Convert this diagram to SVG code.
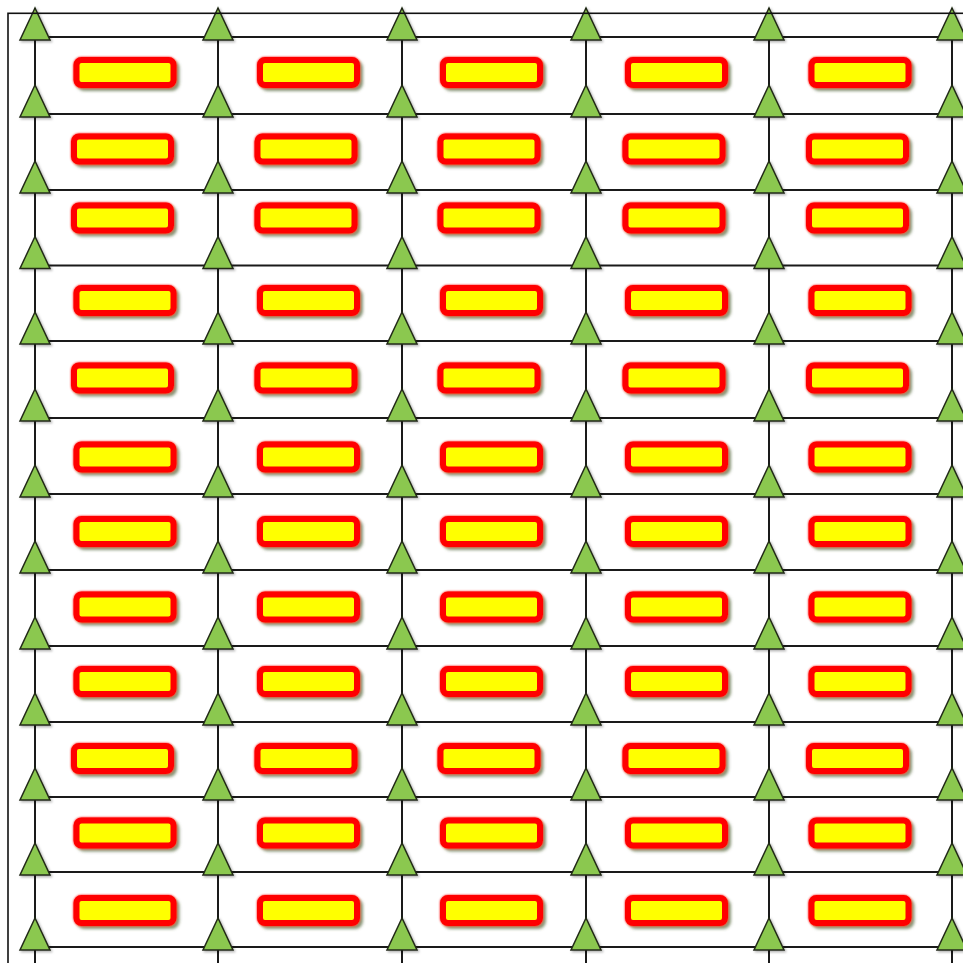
<svg xmlns="http://www.w3.org/2000/svg" xmlns:xlink="http://www.w3.org/1999/xlink" width="963" height="963" viewBox="0 0 963 963">
<style>
.ln{stroke:#1a1a1a;stroke-width:2;fill:none}
.bd{stroke:#111;stroke-width:1.6;fill:none}
.tri{fill:#8bc84f;stroke:#222a18;stroke-width:1.5;stroke-linejoin:miter}
.nd{fill:#ffff00;stroke:#ff0000;stroke-width:6;filter:url(#sh)}
</style>
<defs>
<filter id="sh" x="-10%" y="-40%" width="130%" height="200%">
<feGaussianBlur in="SourceAlpha" stdDeviation="1.5" result="b"/>
<feOffset in="b" dx="3" dy="3" result="o"/>
<feFlood flood-color="#55663a" flood-opacity="0.7"/>
<feComposite in2="o" operator="in" result="s"/>
<feGaussianBlur in="SourceGraphic" stdDeviation="0.9" result="g"/>
<feMerge><feMergeNode in="s"/><feMergeNode in="g"/><feMergeNode in="SourceGraphic"/></feMerge>
</filter>
<filter id="tsh" x="-30%" y="-30%" width="160%" height="160%">
<feDropShadow dx="1.5" dy="1.5" stdDeviation="1" flood-color="#000" flood-opacity="0.3"/>
</filter>
<polygon id="tri" class="tri" points="0,-29 -15,3 15,3"/>
</defs>
<rect width="963" height="963" fill="#fff"/>
<g id="connectors">
<g id="hlines">
<line class="ln" x1="35" y1="37" x2="963" y2="37"/>
<line class="ln" x1="35" y1="114" x2="963" y2="114"/>
<line class="ln" x1="35" y1="190" x2="963" y2="190"/>
<line class="ln" x1="35" y1="265.5" x2="963" y2="265.5"/>
<line class="ln" x1="35" y1="341" x2="963" y2="341"/>
<line class="ln" x1="35" y1="418" x2="963" y2="418"/>
<line class="ln" x1="35" y1="494" x2="963" y2="494"/>
<line class="ln" x1="35" y1="570" x2="963" y2="570"/>
<line class="ln" x1="35" y1="646" x2="963" y2="646"/>
<line class="ln" x1="35" y1="722" x2="963" y2="722"/>
<line class="ln" x1="35" y1="797" x2="963" y2="797"/>
<line class="ln" x1="35" y1="872" x2="963" y2="872"/>
<line class="ln" x1="35" y1="947" x2="963" y2="947"/>
</g>
<g id="vlines">
<line class="ln" x1="35" y1="8" x2="35" y2="963"/>
<line class="ln" x1="218" y1="8" x2="218" y2="963"/>
<line class="ln" x1="402" y1="8" x2="402" y2="963"/>
<line class="ln" x1="586" y1="8" x2="586" y2="963"/>
<line class="ln" x1="769" y1="8" x2="769" y2="963"/>
<line class="ln" x1="952" y1="8" x2="952" y2="963"/>
</g>
<g id="arrowheads" filter="url(#tsh)">
<use xlink:href="#tri" x="35" y="37"/><use xlink:href="#tri" x="218" y="37"/><use xlink:href="#tri" x="402" y="37"/><use xlink:href="#tri" x="586" y="37"/><use xlink:href="#tri" x="769" y="37"/><use xlink:href="#tri" x="952" y="37"/>
<use xlink:href="#tri" x="35" y="114"/><use xlink:href="#tri" x="218" y="114"/><use xlink:href="#tri" x="402" y="114"/><use xlink:href="#tri" x="586" y="114"/><use xlink:href="#tri" x="769" y="114"/><use xlink:href="#tri" x="952" y="114"/>
<use xlink:href="#tri" x="35" y="190"/><use xlink:href="#tri" x="218" y="190"/><use xlink:href="#tri" x="402" y="190"/><use xlink:href="#tri" x="586" y="190"/><use xlink:href="#tri" x="769" y="190"/><use xlink:href="#tri" x="952" y="190"/>
<use xlink:href="#tri" x="35" y="265.5"/><use xlink:href="#tri" x="218" y="265.5"/><use xlink:href="#tri" x="402" y="265.5"/><use xlink:href="#tri" x="586" y="265.5"/><use xlink:href="#tri" x="769" y="265.5"/><use xlink:href="#tri" x="952" y="265.5"/>
<use xlink:href="#tri" x="35" y="341"/><use xlink:href="#tri" x="218" y="341"/><use xlink:href="#tri" x="402" y="341"/><use xlink:href="#tri" x="586" y="341"/><use xlink:href="#tri" x="769" y="341"/><use xlink:href="#tri" x="952" y="341"/>
<use xlink:href="#tri" x="35" y="418"/><use xlink:href="#tri" x="218" y="418"/><use xlink:href="#tri" x="402" y="418"/><use xlink:href="#tri" x="586" y="418"/><use xlink:href="#tri" x="769" y="418"/><use xlink:href="#tri" x="952" y="418"/>
<use xlink:href="#tri" x="35" y="494"/><use xlink:href="#tri" x="218" y="494"/><use xlink:href="#tri" x="402" y="494"/><use xlink:href="#tri" x="586" y="494"/><use xlink:href="#tri" x="769" y="494"/><use xlink:href="#tri" x="952" y="494"/>
<use xlink:href="#tri" x="35" y="570"/><use xlink:href="#tri" x="218" y="570"/><use xlink:href="#tri" x="402" y="570"/><use xlink:href="#tri" x="586" y="570"/><use xlink:href="#tri" x="769" y="570"/><use xlink:href="#tri" x="952" y="570"/>
<use xlink:href="#tri" x="35" y="646"/><use xlink:href="#tri" x="218" y="646"/><use xlink:href="#tri" x="402" y="646"/><use xlink:href="#tri" x="586" y="646"/><use xlink:href="#tri" x="769" y="646"/><use xlink:href="#tri" x="952" y="646"/>
<use xlink:href="#tri" x="35" y="722"/><use xlink:href="#tri" x="218" y="722"/><use xlink:href="#tri" x="402" y="722"/><use xlink:href="#tri" x="586" y="722"/><use xlink:href="#tri" x="769" y="722"/><use xlink:href="#tri" x="952" y="722"/>
<use xlink:href="#tri" x="35" y="797"/><use xlink:href="#tri" x="218" y="797"/><use xlink:href="#tri" x="402" y="797"/><use xlink:href="#tri" x="586" y="797"/><use xlink:href="#tri" x="769" y="797"/><use xlink:href="#tri" x="952" y="797"/>
<use xlink:href="#tri" x="35" y="872"/><use xlink:href="#tri" x="218" y="872"/><use xlink:href="#tri" x="402" y="872"/><use xlink:href="#tri" x="586" y="872"/><use xlink:href="#tri" x="769" y="872"/><use xlink:href="#tri" x="952" y="872"/>
<use xlink:href="#tri" x="35" y="947"/><use xlink:href="#tri" x="218" y="947"/><use xlink:href="#tri" x="402" y="947"/><use xlink:href="#tri" x="586" y="947"/><use xlink:href="#tri" x="769" y="947"/><use xlink:href="#tri" x="952" y="947"/>
</g>
</g>
<rect class="bd" x="8" y="13.3" width="970" height="970"/>
<g id="nodes">
<g id="n1-1"><rect class="nd" x="76.5" y="60" width="97" height="25" rx="5"/></g>
<g id="n1-2"><rect class="nd" x="260" y="60" width="97" height="25" rx="5"/></g>
<g id="n1-3"><rect class="nd" x="443" y="60" width="97" height="25" rx="5"/></g>
<g id="n1-4"><rect class="nd" x="628" y="60" width="97" height="25" rx="5"/></g>
<g id="n1-5"><rect class="nd" x="811.5" y="60" width="97" height="25" rx="5"/></g>
<g id="n2-1"><rect class="nd" x="74" y="136.5" width="97" height="25" rx="5"/></g>
<g id="n2-2"><rect class="nd" x="257.5" y="136.5" width="97" height="25" rx="5"/></g>
<g id="n2-3"><rect class="nd" x="440.5" y="136.5" width="97" height="25" rx="5"/></g>
<g id="n2-4"><rect class="nd" x="625.5" y="136.5" width="97" height="25" rx="5"/></g>
<g id="n2-5"><rect class="nd" x="809" y="136.5" width="97" height="25" rx="5"/></g>
<g id="n3-1"><rect class="nd" x="74" y="205.5" width="97" height="25" rx="5"/></g>
<g id="n3-2"><rect class="nd" x="257.5" y="205.5" width="97" height="25" rx="5"/></g>
<g id="n3-3"><rect class="nd" x="440.5" y="205.5" width="97" height="25" rx="5"/></g>
<g id="n3-4"><rect class="nd" x="625.5" y="205.5" width="97" height="25" rx="5"/></g>
<g id="n3-5"><rect class="nd" x="809" y="205.5" width="97" height="25" rx="5"/></g>
<g id="n4-1"><rect class="nd" x="76.5" y="288" width="97" height="25" rx="5"/></g>
<g id="n4-2"><rect class="nd" x="260" y="288" width="97" height="25" rx="5"/></g>
<g id="n4-3"><rect class="nd" x="443" y="288" width="97" height="25" rx="5"/></g>
<g id="n4-4"><rect class="nd" x="628" y="288" width="97" height="25" rx="5"/></g>
<g id="n4-5"><rect class="nd" x="811.5" y="288" width="97" height="25" rx="5"/></g>
<g id="n5-1"><rect class="nd" x="74" y="365.5" width="97" height="25" rx="5"/></g>
<g id="n5-2"><rect class="nd" x="257.5" y="365.5" width="97" height="25" rx="5"/></g>
<g id="n5-3"><rect class="nd" x="440.5" y="365.5" width="97" height="25" rx="5"/></g>
<g id="n5-4"><rect class="nd" x="625.5" y="365.5" width="97" height="25" rx="5"/></g>
<g id="n5-5"><rect class="nd" x="809" y="365.5" width="97" height="25" rx="5"/></g>
<g id="n6-1"><rect class="nd" x="76.5" y="444.5" width="97" height="25" rx="5"/></g>
<g id="n6-2"><rect class="nd" x="260" y="444.5" width="97" height="25" rx="5"/></g>
<g id="n6-3"><rect class="nd" x="443" y="444.5" width="97" height="25" rx="5"/></g>
<g id="n6-4"><rect class="nd" x="628" y="444.5" width="97" height="25" rx="5"/></g>
<g id="n6-5"><rect class="nd" x="811.5" y="444.5" width="97" height="25" rx="5"/></g>
<g id="n7-1"><rect class="nd" x="76.5" y="519" width="97" height="25" rx="5"/></g>
<g id="n7-2"><rect class="nd" x="260" y="519" width="97" height="25" rx="5"/></g>
<g id="n7-3"><rect class="nd" x="443" y="519" width="97" height="25" rx="5"/></g>
<g id="n7-4"><rect class="nd" x="628" y="519" width="97" height="25" rx="5"/></g>
<g id="n7-5"><rect class="nd" x="811.5" y="519" width="97" height="25" rx="5"/></g>
<g id="n8-1"><rect class="nd" x="76.5" y="594.5" width="97" height="25" rx="5"/></g>
<g id="n8-2"><rect class="nd" x="260" y="594.5" width="97" height="25" rx="5"/></g>
<g id="n8-3"><rect class="nd" x="443" y="594.5" width="97" height="25" rx="5"/></g>
<g id="n8-4"><rect class="nd" x="628" y="594.5" width="97" height="25" rx="5"/></g>
<g id="n8-5"><rect class="nd" x="811.5" y="594.5" width="97" height="25" rx="5"/></g>
<g id="n9-1"><rect class="nd" x="76.5" y="669" width="97" height="25" rx="5"/></g>
<g id="n9-2"><rect class="nd" x="260" y="669" width="97" height="25" rx="5"/></g>
<g id="n9-3"><rect class="nd" x="443" y="669" width="97" height="25" rx="5"/></g>
<g id="n9-4"><rect class="nd" x="628" y="669" width="97" height="25" rx="5"/></g>
<g id="n9-5"><rect class="nd" x="811.5" y="669" width="97" height="25" rx="5"/></g>
<g id="n10-1"><rect class="nd" x="74" y="746" width="97" height="25" rx="5"/></g>
<g id="n10-2"><rect class="nd" x="257.5" y="746" width="97" height="25" rx="5"/></g>
<g id="n10-3"><rect class="nd" x="440.5" y="746" width="97" height="25" rx="5"/></g>
<g id="n10-4"><rect class="nd" x="625.5" y="746" width="97" height="25" rx="5"/></g>
<g id="n10-5"><rect class="nd" x="809" y="746" width="97" height="25" rx="5"/></g>
<g id="n11-1"><rect class="nd" x="76.5" y="820.5" width="97" height="25" rx="5"/></g>
<g id="n11-2"><rect class="nd" x="260" y="820.5" width="97" height="25" rx="5"/></g>
<g id="n11-3"><rect class="nd" x="443" y="820.5" width="97" height="25" rx="5"/></g>
<g id="n11-4"><rect class="nd" x="628" y="820.5" width="97" height="25" rx="5"/></g>
<g id="n11-5"><rect class="nd" x="811.5" y="820.5" width="97" height="25" rx="5"/></g>
<g id="n12-1"><rect class="nd" x="76.5" y="898" width="97" height="25" rx="5"/></g>
<g id="n12-2"><rect class="nd" x="260" y="898" width="97" height="25" rx="5"/></g>
<g id="n12-3"><rect class="nd" x="443" y="898" width="97" height="25" rx="5"/></g>
<g id="n12-4"><rect class="nd" x="628" y="898" width="97" height="25" rx="5"/></g>
<g id="n12-5"><rect class="nd" x="811.5" y="898" width="97" height="25" rx="5"/></g>
</g>
</svg>
